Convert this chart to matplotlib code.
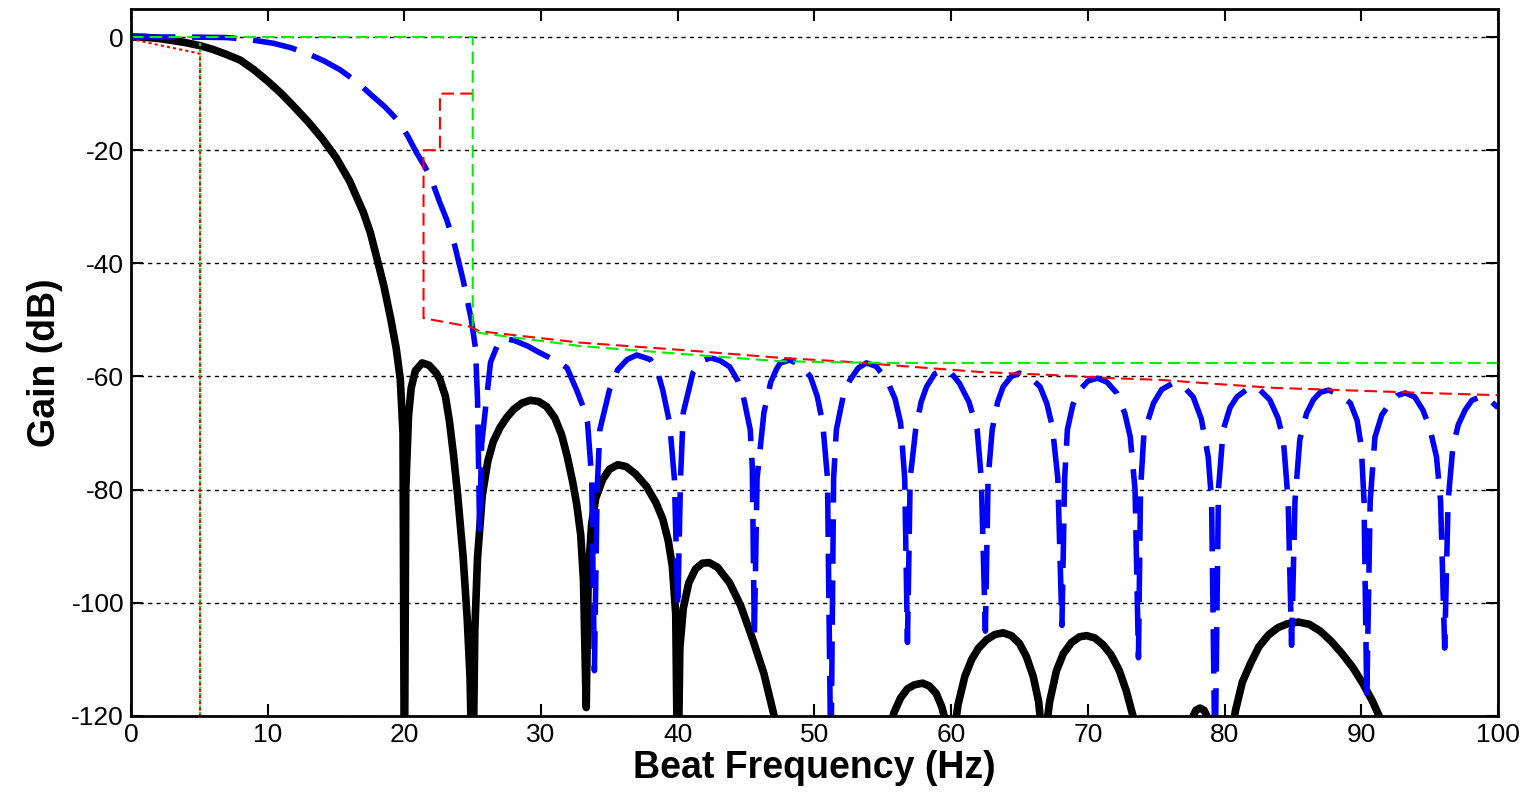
import matplotlib
matplotlib.use("Agg")
import matplotlib.pyplot as plt
import numpy as np

plt.rcParams['font.family'] = ['Liberation Sans', 'DejaVu Sans']
plt.rcParams['axes.unicode_minus'] = False

# black: filter response (thick solid)
black_f = [0, 1, 2, 3, 4, 5, 6, 7, 8, 9, 10, 11, 12, 13, 14, 15, 16, 17, 17.5, 18, 18.5, 19, 19.4, 19.7, 19.9, 20.0,
           20.1, 20.3, 20.5, 20.8, 21.3, 21.8, 22.3, 22.6, 23.0, 23.3, 23.6, 23.9, 24.3, 24.6, 24.8, 25.0,
           25.15, 25.35, 25.7, 26.1, 26.5, 27.0, 27.5, 28.0, 28.6, 29.2, 29.8, 30.4, 31.0, 31.5, 31.9, 32.3, 32.6, 32.9, 33.1, 33.3,
           33.45, 33.7, 34.0, 34.5, 35.0, 35.6, 36.2, 36.9, 37.7, 38.4, 38.9, 39.3, 39.6, 39.85, 40.0,
           40.15, 40.4, 40.8, 41.3, 41.8, 42.3, 42.9, 43.8, 44.6, 45.5, 46.3, 47.0, 47.5,
           55.3, 55.8, 56.3, 56.8, 57.3, 57.9, 58.4, 58.9, 59.3, 59.6, 59.9,
           60.1, 60.5, 61.0, 61.5, 62.0, 62.6, 63.2, 63.8, 64.4, 65.0, 65.5, 66.0, 66.4, 66.7,
           66.8, 67.2, 67.7, 68.2, 68.8, 69.4, 69.9, 70.5, 71.1, 71.7, 72.3, 72.8, 73.3, 73.6,
           77.3, 77.6, 77.9, 78.2, 78.5, 78.8, 79.1,
           80.4, 80.8, 81.3, 81.9, 82.5, 83.2, 83.9, 84.6, 85.4, 86.2, 87.0, 87.8, 88.6, 89.4, 90.1, 90.8, 91.4, 91.9, 100]
black_g = [0, -0.05, -0.25, -0.6, -1.0, -1.5, -2.2, -3.1, -4.1, -5.8, -7.8, -10.0, -12.5, -15.1, -18.0, -21.3, -25.5, -31.0, -34.5, -39.2, -44.0, -49.8, -55, -60.5, -70, -135,
           -80, -67, -62, -59, -57.6, -58, -59.3, -60.5, -63.5, -68, -74, -81, -92, -103, -113, -135,
           -105, -92, -81, -75, -71.5, -69, -67.2, -65.8, -64.7, -64.2, -64.4, -65.3, -67.3, -70.3, -74, -78.5, -82.5, -88, -96, -118.5,
           -95, -86, -81.5, -78.2, -76.4, -75.6, -75.9, -77.2, -79.4, -82.3, -85.2, -89, -93.5, -102, -135,
           -108, -101, -96.5, -94, -93, -92.9, -93.7, -96.5, -100.5, -106.6, -112.5, -119.5, -125,
           -125, -119.5, -116.8, -115.2, -114.5, -114.2, -114.7, -116, -118.3, -121, -125,
           -125, -118, -113, -110, -108, -106.5, -105.6, -105.3, -105.8, -107.2, -109.5, -113, -117.5, -125,
           -125, -117.5, -112, -109, -107, -106, -105.8, -106.2, -107.4, -109.2, -112, -115.5, -120, -125,
           -125, -120.5, -119, -118.6, -119, -120.5, -125,
           -125, -119, -114, -110.7, -107.8, -105.7, -104.4, -103.7, -103.4, -103.8, -105, -106.8, -109, -111.5, -114.2, -117.3, -120.5, -125, -125]

# blue: windowed response (thick dashed)
blue_f = [0, 4, 7, 8.5, 10.4, 11.7, 12.9, 14.1, 15.3, 16.5, 17.7, 18.6, 19.5, 20.2, 20.9, 21.4, 21.9, 22.6, 23.1, 23.7, 24.3, 24.9, 25.2, 25.35, 25.5,
          25.65, 25.9, 26.3, 26.8, 27.2, 28.0, 29.0, 29.9, 31.4, 31.9, 32.6, 33.1, 33.4, 33.7, 33.9,
          34.1, 34.3, 35.0, 35.6, 36.3, 37.0, 38.0, 38.5, 38.9, 39.4, 39.75, 40.0,
          40.2, 40.4, 41.1, 41.7, 42.4, 43.1, 43.8, 44.4, 44.8, 45.3, 45.45, 45.6,
          45.8, 46.3, 46.8, 47.2, 47.5, 48.2, 49.0, 49.7, 50.2, 50.6, 50.95, 51.2,
          51.4, 51.6, 52.1, 52.6, 53.2, 53.8, 54.5, 55.3, 55.9, 56.3, 56.6, 56.8,
          57.0, 57.4, 57.8, 58.2, 58.8, 59.4, 60.0, 60.6, 61.3, 61.9, 62.2, 62.5,
          62.7, 63.0, 63.4, 63.8, 64.4, 65.0, 65.7, 66.5, 67.0, 67.4, 67.8, 68.1,
          68.3, 68.5, 68.9, 69.4, 70.0, 70.7, 71.4, 72.1, 72.7, 73.1, 73.45, 73.7,
          73.85, 74.1, 74.8, 75.4, 76.2, 77.0, 77.7, 78.3, 78.8, 79.05, 79.3,
          79.55, 79.9, 80.4, 80.9, 81.9, 82.6, 83.3, 83.9, 84.3, 84.65, 84.9,
          85.15, 85.5, 86.0, 86.5, 87.0, 87.6, 88.4, 89.2, 89.7, 90.0, 90.2, 90.4,
          90.65, 91.0, 91.5, 92.1, 92.6, 93.2, 93.9, 94.5, 95.0, 95.5, 95.8, 96.1,
          96.35, 96.7, 97.1, 97.6, 98.1, 98.7, 99.3, 100]
blue_g = [0, 0, -0.1, -0.4, -1.1, -1.9, -2.9, -4.2, -5.8, -7.9, -10.5, -12.4, -14.7, -17.3, -20.5, -22.5, -24.7, -29.3, -32.3, -37, -43, -50, -55, -64, -87,
          -72, -66.4, -57.5, -54.5, -53.3, -53.6, -54.6, -55.8, -57.6, -58.5, -62.4, -65.5, -68.2, -78, -112,
          -80, -69.4, -62.4, -58.8, -57, -56.2, -57, -59, -62.4, -68.2, -78, -101,
          -78, -66.4, -59.4, -57.3, -56.7, -57.2, -58.3, -60.8, -63.6, -69.4, -76, -106,
          -78, -66.4, -61, -58.8, -57.6, -57.1, -58, -60, -63.5, -68.2, -78, -130,
          -78, -69.4, -63.5, -60.6, -58.5, -57.6, -58.2, -60.6, -64, -68.2, -78, -107,
          -78, -69.4, -64.5, -61.8, -59.5, -58.8, -59.4, -61.2, -64.5, -69.4, -78, -105,
          -78, -69.4, -64.5, -61.8, -60, -59.4, -60, -61.8, -64.8, -68.9, -78, -104,
          -78, -69.4, -65, -62.4, -60.8, -60.3, -61, -62.9, -66.5, -70.7, -80, -109.7,
          -80, -70, -64.7, -62.3, -61.2, -61.8, -63.6, -67.5, -74.2, -82, -130,
          -80, -69.4, -65.5, -63.6, -61.8, -62.4, -64.1, -67.3, -71.2, -82, -107.5,
          -82, -71.2, -66.5, -64.1, -62.8, -62.4, -63.2, -64.7, -67.8, -72.4, -82, -117,
          -82, -70.7, -66.8, -64.7, -63.4, -62.9, -63.6, -65.9, -69, -74.2, -82, -108,
          -82, -72.4, -68.5, -65.9, -64.2, -63.6, -64, -65.5]

# red dashed mask
red_f = [25.0, 22.6, 22.6, 21.4, 21.4, 24.8, 25.5, 32.8, 40.2, 47.5, 52.4, 57.2, 62.1, 67.0, 71.8, 75.3, 78.7, 83.5, 88.4, 95.8, 100]
red_g = [-10, -10, -20, -20, -49.7, -51.2, -52, -54, -55.3, -56.7, -57.4, -58.3, -59.2, -59.7, -60.3, -60.6, -61.2, -62, -62.4, -63, -63.3]

# green dashed mask
green_f = [0, 25.0, 25.0, 25.5, 32.8, 40.2, 47.5, 52, 55, 100]
green_g = [0, 0, -51.5, -52.3, -54.6, -56, -57.3, -57.5, -57.6, -57.6]

# dotted low-pass lines at 5 Hz
reddot_f = [0, 0.3, 2.0, 3.4, 4.8, 5.05, 5.05]
reddot_g = [0, -0.5, -1.4, -2.1, -2.8, -3, -120]
greendot_f = [5.05, 5.05]
greendot_g = [-1, -120]

xticks = np.arange(0, 101, 10)
yticks = np.arange(-120, 1, 20)

fig = plt.figure(figsize=(15.32, 7.99), dpi=100)
ax = fig.add_axes([0.0855, 0.1039, 0.8923, 0.8852])

ax.plot(black_f, black_g, color='black', lw=5.5, solid_capstyle='round', solid_joinstyle='round')
ax.plot(blue_f, blue_g, color='#0000ff', lw=4, dashes=(8, 3))
ax.plot(red_f, red_g, color='#ff0000', lw=1.5, dashes=(6, 3))
ax.plot(green_f, green_g, color='#00ee00', lw=1.5, dashes=(6, 3))
ax.plot(greendot_f, greendot_g, color='#00ee00', lw=1.5, dashes=(1.5, 1.5))
ax.plot(reddot_f, reddot_g, color='#ff0000', lw=1.5, dashes=(1.5, 1.5), dash_capstyle='butt')

ax.set_xlim(0, 100)
ax.set_ylim(-120, 5)
ax.set_xticks(xticks)
ax.set_yticks(yticks)
ax.yaxis.grid(True, color='black', lw=1, dashes=(3, 3))
ax.tick_params(direction='in', length=8.5, width=1.5, top=True, right=True, labelsize=19, pad=5)
for sp in ax.spines.values():
    sp.set_linewidth(2)

ax.set_xlabel('Beat Frequency (Hz)', fontsize=27, fontweight='bold', labelpad=2)
ax.set_ylabel('Gain (dB)', fontsize=27, fontweight='bold', labelpad=6)

fig.savefig('out.png', dpi=100)
